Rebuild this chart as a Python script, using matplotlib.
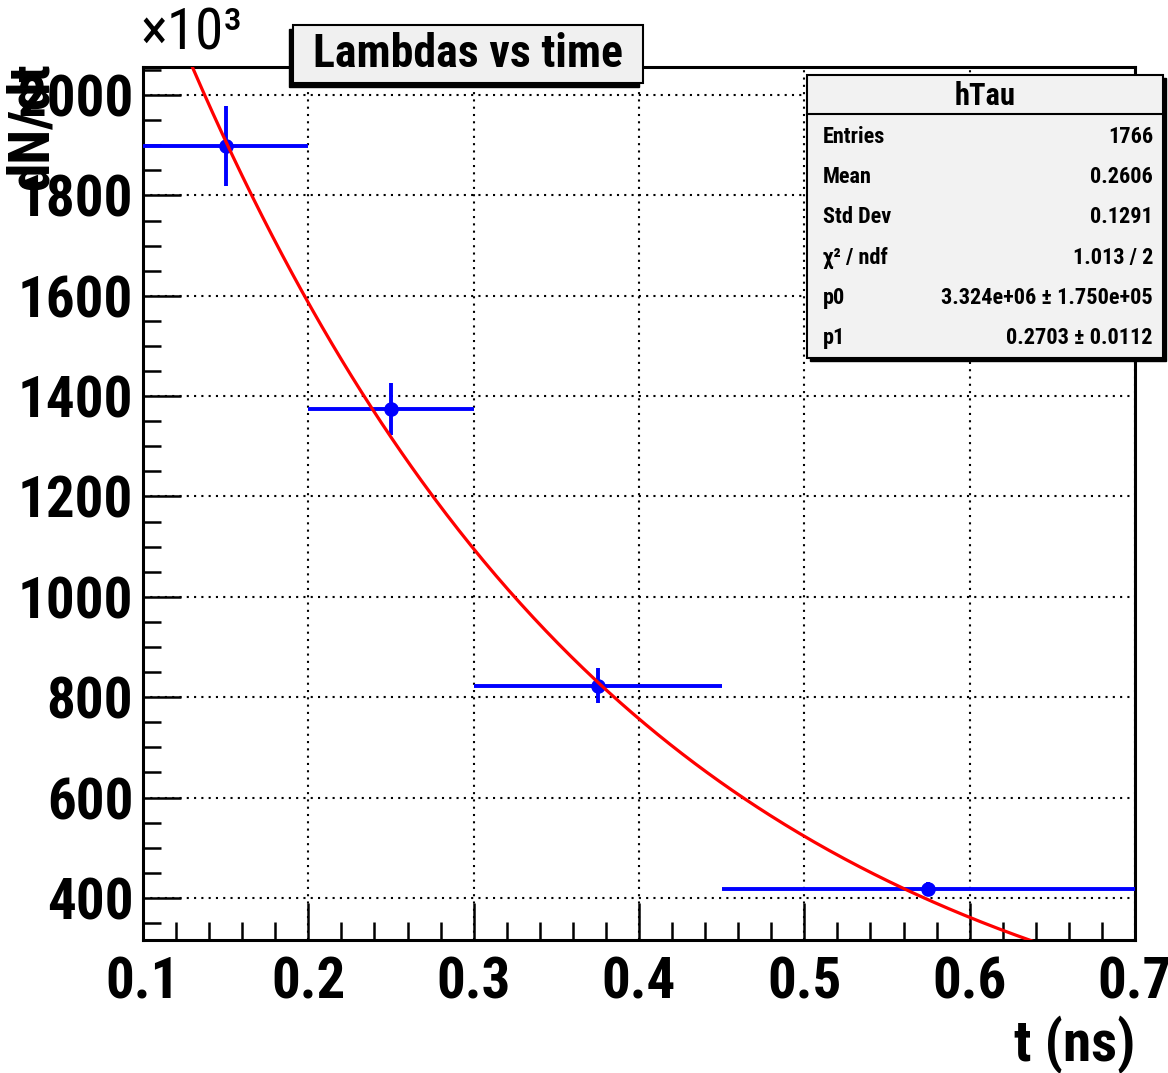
import numpy as np
import matplotlib
matplotlib.use("Agg")
import matplotlib.pyplot as plt
from matplotlib.patches import Rectangle
from matplotlib.ticker import MultipleLocator

# narrow bold sans, close to the squeezed Helvetica of the original
plt.rcParams['font.family'] = ['Roboto Condensed', 'Liberation Sans', 'DejaVu Sans']
plt.rcParams['font.weight'] = 'bold'

# histogram hTau, variable bins (t in ns), dN/dt in units of 10^3
bin_edges = [0.1, 0.2, 0.3, 0.45, 0.7]
dndt = [1898, 1374, 823, 417]
dndt_err = [80, 52, 35, 14]

# fit result p0*exp(-t/p1) from the stats box
p0 = 3.324e6
p1 = 0.2703

stats_labels = ["Entries", "Mean", "Std Dev", "χ² / ndf", "p0", "p1"]
stats_values = ["1766", "0.2606", "0.1291", "1.013 / 2",
                "3.324e+06 ± 1.750e+05", "0.2703 ± 0.0112"]

edges = np.array(bin_edges)
centers = 0.5 * (edges[:-1] + edges[1:])
xerr = np.vstack([centers - edges[:-1], edges[1:] - centers])

W, H = 1168, 1073
fig = plt.figure(figsize=(W / 100, H / 100), dpi=100)
ax = fig.add_axes([143 / W, 1 - 940 / H, (1135 - 143) / W, (940 - 67) / H])

ax.set_xlim(0.1, 0.7)
ax.set_ylim(316, 2056)

# fit curve
t = np.linspace(0.1, 0.7, 400)
ax.plot(t, p0 * np.exp(-t / p1) / 1e3, color='red', lw=2.3, zorder=4)

ax.errorbar(centers, dndt, xerr=xerr, yerr=dndt_err, fmt='o', color='#0000ff',
            ms=9.5, elinewidth=2.8, capsize=0, zorder=3)

ax.xaxis.set_major_locator(MultipleLocator(0.1))
ax.xaxis.set_minor_locator(MultipleLocator(0.02))
ax.yaxis.set_major_locator(MultipleLocator(200))
ax.yaxis.set_minor_locator(MultipleLocator(50))
ax.grid(True, which='major', color='black', linestyle=(0, (1, 2.5)), lw=1.5)
ax.tick_params(which='both', direction='in', top=False, right=False, width=1.8,
               labelsize=41)
ax.tick_params(axis='x', pad=11)
ax.tick_params(axis='y', pad=7)
ax.tick_params(which='major', length=27)
ax.tick_params(which='minor', length=13)
ax.set_yticks(range(400, 2001, 200))
ax.set_xticks([0.1, 0.2, 0.3, 0.4, 0.5, 0.6, 0.7])
ax.set_xticklabels(["0.1", "0.2", "0.3", "0.4", "0.5", "0.6", "0.7"])
for s in ax.spines.values():
    s.set_linewidth(2.2)

ax.set_xlabel("t (ns)", fontsize=41, fontweight='bold', loc='right', labelpad=4)
fig.text(32 / W, 1 - 62 / H, "dN/dt", rotation=90, ha='center', va='top',
         fontsize=41, fontweight='bold')
fig.text(140 / W, 1 - 62 / H, "×10³", fontsize=41, fontweight='normal',
         ha='left', va='bottom')

# title box with shadow
tb_x, tb_y, tb_w, tb_h = 293 / W, 1 - 83 / H, 350 / W, 58 / H
fig.patches.append(Rectangle((tb_x - 4 / W, tb_y - 4 / H), tb_w, tb_h,
                             transform=fig.transFigure, facecolor='black',
                             edgecolor='black', zorder=5))
fig.patches.append(Rectangle((tb_x, tb_y), tb_w, tb_h, transform=fig.transFigure,
                             facecolor='#f0f0f0', edgecolor='black', lw=1.5, zorder=6))
fig.text(tb_x + tb_w / 2, tb_y + tb_h / 2, "Lambdas vs time", ha='center', va='center',
         fontsize=33, fontweight='bold', zorder=7)

# stats box
sb_x0, sb_x1 = 807 / W, 1163 / W
sb_top, sb_bot = 1 - 75 / H, 1 - 358 / H
fig.patches.append(Rectangle((sb_x0 + 3 / W, sb_bot - 3 / H), sb_x1 - sb_x0,
                             sb_top - sb_bot, transform=fig.transFigure,
                             facecolor='black', edgecolor='black', zorder=5))
fig.patches.append(Rectangle((sb_x0, sb_bot), sb_x1 - sb_x0, sb_top - sb_bot,
                             transform=fig.transFigure, facecolor='#f2f2f2',
                             edgecolor='black', lw=1.5, zorder=6))
sep_y = 1 - 114 / H
fig.add_artist(plt.Line2D([sb_x0, sb_x1], [sep_y, sep_y], transform=fig.transFigure,
                          color='black', lw=1.5, zorder=7))
fig.text((sb_x0 + sb_x1) / 2, 1 - 96 / H, "hTau", ha='center', va='center',
         fontsize=22, fontweight='bold', zorder=7)
for i, (lab, val) in enumerate(zip(stats_labels, stats_values)):
    yy = 1 - (137 + 40.2 * i) / H
    fig.text(823 / W, yy, lab, ha='left', va='center', fontsize=16,
             fontweight='bold', zorder=7)
    fig.text(1153 / W, yy, val, ha='right', va='center', fontsize=16,
             fontweight='bold', zorder=7)

fig.savefig("out.png", dpi=100)
